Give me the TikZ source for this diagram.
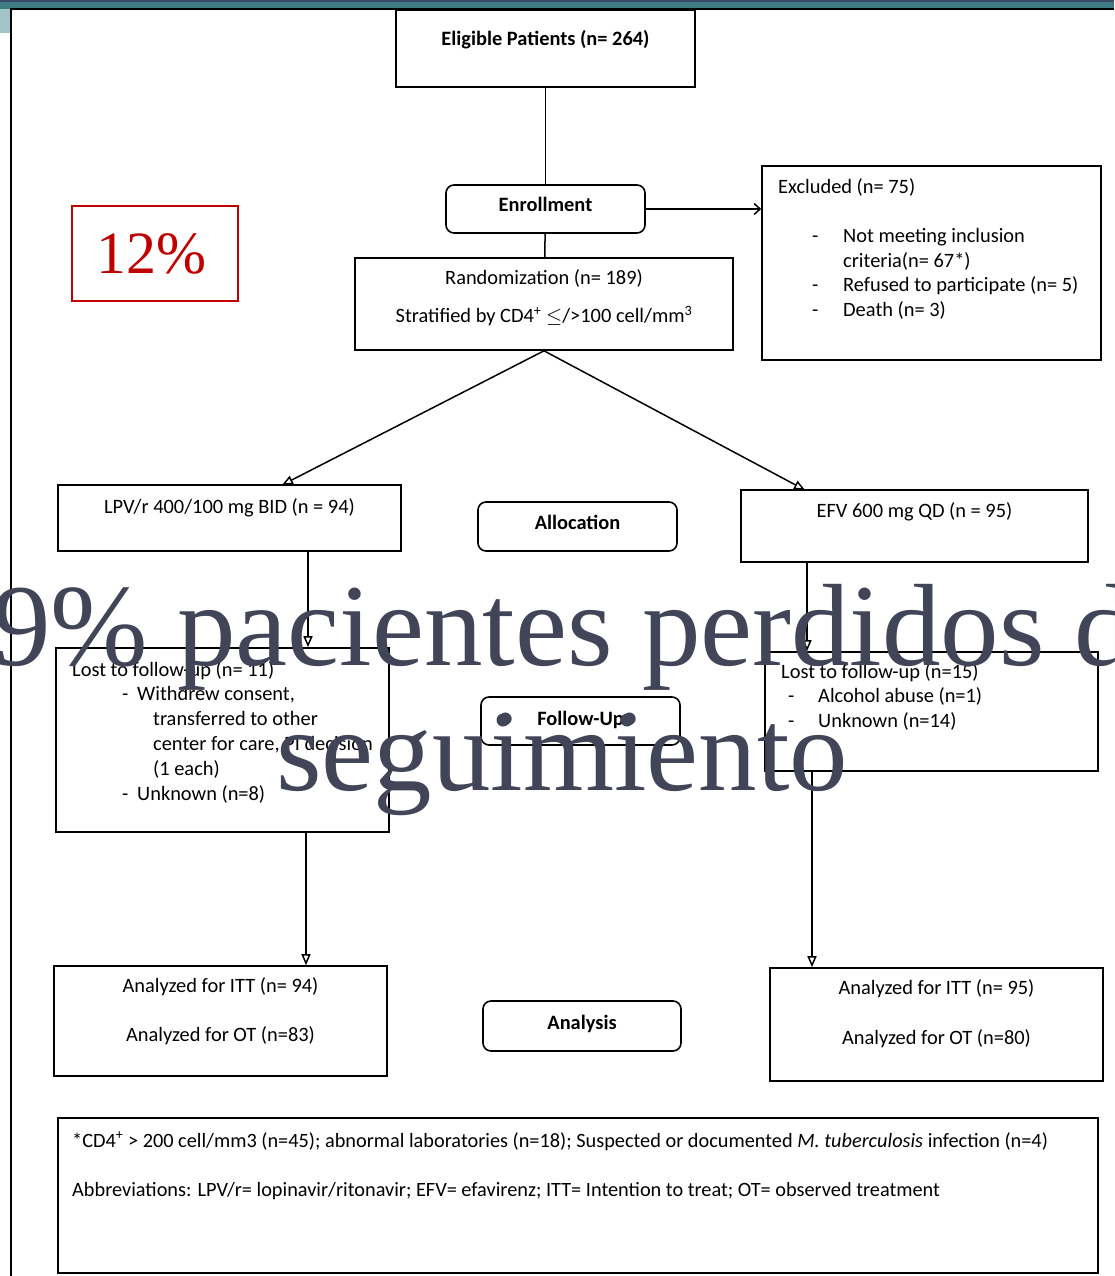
\documentclass[tikz,border=0pt]{standalone}
\usepackage{fontspec}
\setmainfont{Carlito}
\newfontfamily\slidefont{Liberation Serif}
\usetikzlibrary{arrows.meta}
\definecolor{topnavy}{RGB}{58,72,104}
\definecolor{topteal}{RGB}{62,124,131}
\definecolor{sideteal}{RGB}{162,195,199}
\definecolor{slate}{RGB}{66,68,88}
\definecolor{myred}{RGB}{192,0,0}

\begin{document}
\begin{tikzpicture}[x=1pt,y=-1pt,
  box/.style={draw,line width=1.6pt,inner sep=0pt,text height=13pt,text depth=6pt,
    font=\fontsize{20.4}{25}\selectfont},
  rbox/.style={box,rounded corners=8pt},
  txt/.style={inner sep=0pt,font=\fontsize{20.4}{24.8}\selectfont},
  link/.style={line width=1.5pt},
  arr/.style={link,-{Triangle[open,length=11pt,width=9pt]}}]

\useasboundingbox (0,0) rectangle (1114,1276);
\clip (0,0) rectangle (1114,1276);

% fondo de la diapositiva
\fill[topteal] (0,0) rectangle (1114,9);
\fill[topnavy] (0,0) rectangle (1114,2.5);
\fill[sideteal] (0,9) rectangle (10,33);
\draw[line width=2pt] (11,1276) -- (11,9) -- (1114,9);

% cajas
\node[box,minimum width=299pt,minimum height=77pt,text depth=19pt] (elig) at (545.5,48.5) {\bfseries Eligible Patients (n= 264)};
\node[rbox,minimum width=199pt,minimum height=48pt,text depth=8pt] (enrol) at (545.5,209) {\bfseries Enrollment};

\node[box,minimum width=378pt,minimum height=92pt] (rand) at (544,304) {};
\node[txt] (randa) at (544,278) {Randomization (n= 189)};
\node[txt] (randb) at (544,316) {Stratified by CD4\textsuperscript{+} $\leq$/>100 cell/mm\textsuperscript{3}};

\node[box,minimum width=339pt,minimum height=194pt] (excl) at (931.5,263) {};
\node[txt,anchor=west] (excla) at (778,187) {Excluded (n= 75)};
\node[txt,anchor=north west,align=left] (exclb) at (812,228) {%
  \makebox[31pt][l]{-}Not meeting inclusion\\
  \hspace*{31pt}criteria(n= 67*)\\
  \makebox[31pt][l]{-}Refused to participate (n= 5)\\
  \makebox[31pt][l]{-}Death (n= 3)};

\node[box,minimum width=343pt,minimum height=66pt,text depth=22pt] (lpv) at (229.5,518) {LPV/r 400/100 mg BID (n = 94)};
\node[rbox,minimum width=199pt,minimum height=49pt,text depth=7pt] (alloc) at (577.5,526.5) {\bfseries Allocation};
\node[box,minimum width=347pt,minimum height=72pt,text depth=30pt] (efv) at (914.5,526) {EFV 600 mg QD (n = 95)};

\node[box,minimum width=333pt,minimum height=184pt] (lostl) at (222.5,740) {};
\node[txt,anchor=north west,align=left] (lostltxt) at (72,661) {%
  Lost to follow-up (n= 11)\\
  \hspace*{50pt}\makebox[15pt][l]{-}Withdrew consent,\\
  \hspace*{81pt}transferred to other\\
  \hspace*{81pt}center for care, PI decision\\
  \hspace*{81pt}(1 each)\\
  \hspace*{50pt}\makebox[15pt][l]{-}Unknown (n=8)};
\node[rbox,minimum width=199pt,minimum height=48pt,text depth=4pt] (follow) at (580.5,721) {\bfseries Follow-Up};
\node[box,minimum width=333pt,minimum height=119pt] (lostr) at (931.5,711.5) {};
\node[txt,anchor=north west,align=left] (lostrtxt) at (781,663) {%
  Lost to follow-up (n=15)\\
  \hspace*{7pt}\makebox[30pt][l]{-}Alcohol abuse (n=1)\\
  \hspace*{7pt}\makebox[30pt][l]{-}Unknown (n=14)};

\node[box,minimum width=333pt,minimum height=110pt] (anl) at (220.5,1021) {};
\node[txt] (anla) at (220.5,987) {Analyzed for ITT (n= 94)};
\node[txt] (anlb) at (220.5,1036) {Analyzed for OT (n=83)};
\node[rbox,minimum width=198pt,minimum height=50pt] (anal) at (582,1026) {\bfseries Analysis};
\node[box,minimum width=333pt,minimum height=113pt] (anr) at (936.5,1024.5) {};
\node[txt] (anra) at (936.5,989) {Analyzed for ITT (n= 95)};
\node[txt] (anrb) at (936.5,1039) {Analyzed for OT (n=80)};

\node[box,minimum width=1040pt,minimum height=155pt] (notes) at (578,1195.5) {};
\node[txt,anchor=west,font=\fontsize{20.3}{24}\selectfont] (notea) at (72,1141) {*CD4\textsuperscript{+} > 200 cell/mm3 (n=45); abnormal laboratories (n=18); Suspected or documented \textit{M. tuberculosis} infection (n=4)};
\node[txt,anchor=west,font=\fontsize{20.3}{24}\selectfont] (noteb) at (72,1191) {Abbreviations: LPV/r= lopinavir/ritonavir; EFV= efavirenz; ITT= Intention to treat; OT= observed treatment};

% conectores
\draw[link] (elig) -- (enrol);
\draw[link,-{Straight Barb[length=6pt,width=11pt]}] (enrol.east) -- (enrol.east -| excl.west);
\draw[link] (enrol) -- (rand);
\coordinate (lpvin) at (282,485);
\coordinate (efvin) at (805,490);
\draw[arr] (rand.south) -- (lpvin);
\draw[arr] (rand.south) -- (efvin);
\coordinate (lpvout) at (308,551);
\draw[arr] (lpvout) -- (lpvout |- lostl.north);
\coordinate (efvout) at (807,562);
\draw[arr] (efvout) -- (efvout |- lostr.north);
\coordinate (lostlout) at (306,832);
\draw[arr] (lostlout) -- (lostlout |- anl.north);
\coordinate (lostrout) at (812,771);
\draw[arr] (lostrout) -- (lostrout |- anr.north);

% textos de la diapositiva
\node[draw=myred,line width=1.5pt,minimum width=166pt,minimum height=95pt,inner sep=0pt,
  text=myred,font=\slidefont\fontsize{60}{60}\selectfont] (pct) at (155,253.5) {\hspace*{-8pt}12\%};
\node[anchor=base west,inner sep=0pt,text=slate,font=\slidefont\fontsize{117}{125}\selectfont] (lost1) at (-8,665) {9\% pacientes perdidos de};
\node[anchor=base,inner sep=0pt,text=slate,font=\slidefont\fontsize{117}{125}\selectfont] (lost2) at (562,790) {seguimiento};
\fill[slate] (503,720) circle (6.5pt);
\fill[slate] (627,720) circle (6.5pt);

\end{tikzpicture}
\end{document}
